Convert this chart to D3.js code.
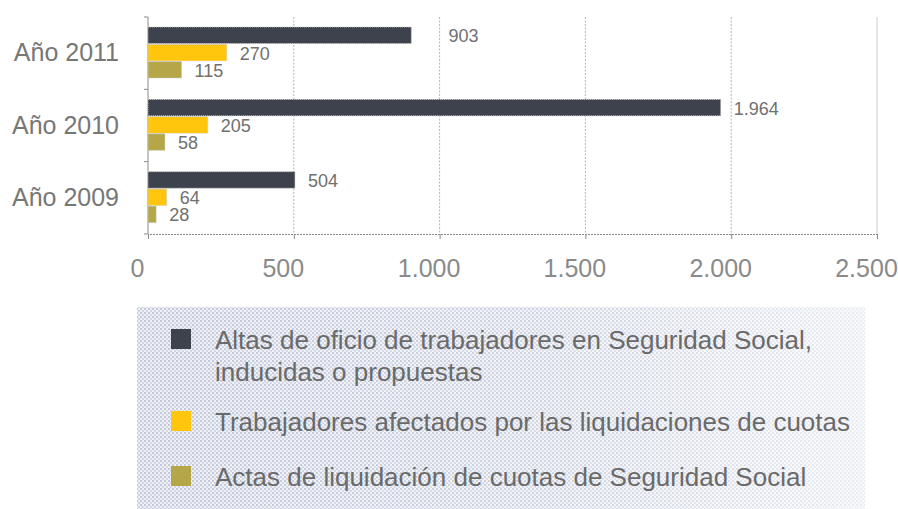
<!DOCTYPE html>
<html><head><meta charset="utf-8">
<script src="https://cdn.jsdelivr.net/npm/d3@7"></script>
<style>
html,body{margin:0;padding:0;background:#fff;}
svg{display:block;font-family:"Liberation Sans",Arial,sans-serif;}
</style></head>
<body><svg id="chart" width="898" height="509"></svg>
<script>
// ---- data ----
const categories = ["Año 2011", "Año 2010", "Año 2009"];
const seriesKeys = ["altas", "trabajadores", "actas"];
const altasValues = [903, 1964, 504];
const trabajadoresValues = [270, 205, 64];
const actasValues = [115, 58, 28];
const xTickValues = [0, 500, 1000, 1500, 2000, 2500];
const legendLabels = [
  ["Altas de oficio de trabajadores en Seguridad Social,", "inducidas o propuestas"],
  ["Trabajadores afectados por las liquidaciones de cuotas"],
  ["Actas de liquidación de cuotas de Seguridad Social"]
];
const seriesColors = ["#3d424d", "#ffc60d", "#b5a748"];

(function () {
const rows = categories.map((c, i) => ({
  cat: c,
  altas: altasValues[i],
  trabajadores: trabajadoresValues[i],
  actas: actasValues[i]
}));

const loc = d3.formatLocale({decimal: ",", thousands: ".", grouping: [3], currency: ["", "€"]});
const fmt = v => v >= 1000 ? loc.format(",")(v) : String(v);

const svg = d3.select("#chart");
const mLeft = 148, mRight = 877, mTop = 17, mBottom = 234;

const x = d3.scaleLinear().domain([0, 2500]).range([mLeft, mRight]);
const y0 = d3.scaleBand().domain(categories).range([mTop, mBottom]).padding(0);
const y1 = d3.scaleBand().domain(seriesKeys).range([10, 61]).paddingInner(0.04);
const color = d3.scaleOrdinal().domain(seriesKeys).range(seriesColors);

// defs
const defs = svg.append("defs");
const pat = defs.append("pattern").attr("id", "dots").attr("width", 4).attr("height", 4)
  .attr("patternUnits", "userSpaceOnUse");
pat.append("rect").attr("width", 4).attr("height", 4).attr("fill", "#eff1f6");
pat.append("rect").attr("x", 0).attr("y", 0).attr("width", 2).attr("height", 2).attr("fill", "#c2c8da");
pat.append("rect").attr("x", 2).attr("y", 2).attr("width", 2).attr("height", 2).attr("fill", "#d0d5e4");
const grad = defs.append("linearGradient").attr("id", "fade").attr("x1", 0).attr("x2", 1).attr("y1", 0).attr("y2", 0);
grad.append("stop").attr("offset", "0").attr("stop-color", "#fff").attr("stop-opacity", 0);
grad.append("stop").attr("offset", "0.55").attr("stop-color", "#fff").attr("stop-opacity", 0.2);
grad.append("stop").attr("offset", "1").attr("stop-color", "#fff").attr("stop-opacity", 0.65);

// gridlines
svg.append("g").selectAll("line").data(xTickValues.slice(1)).join("line")
  .attr("x1", d => x(d)).attr("x2", d => x(d))
  .attr("y1", mTop).attr("y2", mBottom)
  .attr("stroke", d => d === 2500 ? "#cfcfcf" : "#b5b5b5")
  .attr("stroke-width", 1)
  .attr("stroke-dasharray", d => d === 2500 ? null : "2,1.5");

// bottom axis
const xAxis = d3.axisBottom(x).tickValues(xTickValues).tickSize(5).tickFormat(fmt);
const gx = svg.append("g").attr("transform", `translate(0,${mBottom})`).call(xAxis);
gx.select(".domain").attr("stroke", "#8a8a8a").attr("stroke-dasharray", "2,1");
gx.selectAll(".tick line").attr("stroke", "#8a8a8a");
gx.selectAll(".tick text").attr("fill", "#8a8a8a").attr("font-size", 25)
  .attr("font-family", "Liberation Sans, Arial, sans-serif")
  .attr("dy", 0).attr("y", 43).attr("x", -11);

// left axis
svg.append("line").attr("x1", mLeft).attr("x2", mLeft).attr("y1", mTop).attr("y2", mBottom)
  .attr("stroke", "#8a8a8a");
const bounds = categories.map(c => y0(c)).concat([mBottom]);
svg.append("g").selectAll("line").data(bounds).join("line")
  .attr("x1", mLeft - 4).attr("x2", mLeft).attr("y1", d => d).attr("y2", d => d)
  .attr("stroke", "#8a8a8a");

svg.append("g").selectAll("text").data(categories).join("text")
  .attr("x", 119).attr("y", d => y0(d) + y0.bandwidth() / 2 + 8)
  .attr("text-anchor", "end").attr("font-size", 25).attr("fill", "#777")
  .text(d => d);

// bars
const groups = svg.append("g").selectAll("g").data(rows).join("g")
  .attr("transform", d => `translate(0,${y0(d.cat)})`);
groups.selectAll("rect").data(d => seriesKeys.map(k => ({key: k, value: d[k]}))).join("rect")
  .attr("x", x(0)).attr("y", d => y1(d.key))
  .attr("width", d => x(d.value) - x(0)).attr("height", y1.bandwidth())
  .attr("fill", d => color(d.key))
  .attr("stroke", "#c9c9c9").attr("stroke-width", 1).attr("stroke-dasharray", "1,1");

// value labels (shift past gridline if overlapping)
const gridXs = xTickValues.slice(1).map(v => x(v));
groups.selectAll("text").data(d => seriesKeys.map(k => ({key: k, value: d[k]}))).join("text")
  .attr("font-size", 18).attr("fill", "#707070")
  .attr("y", d => y1(d.key) + y1.bandwidth() / 2 + 7)
  .text(d => fmt(d.value))
  .attr("x", function(d) {
    let start = x(d.value) + 13;
    const w = this.getComputedTextLength();
    for (const g of gridXs) {
      if (g > start - 2 && g < start + w + 2) start = g + 9;
    }
    return start;
  });

// legend
const lg = svg.append("g");
lg.append("rect").attr("x", 137).attr("y", 307).attr("width", 728).attr("height", 202).attr("fill", "url(#dots)");
lg.append("rect").attr("x", 137).attr("y", 307).attr("width", 728).attr("height", 202).attr("fill", "url(#fade)");
const legendCenters = {altas: 339, trabajadores: 421, actas: 476};
const items = lg.selectAll("g.item").data(seriesKeys).join("g").attr("class", "item");
items.append("rect")
  .attr("x", 171).attr("y", d => legendCenters[d] - 10)
  .attr("width", 20).attr("height", 20).attr("fill", d => color(d));
items.each(function(k, i) {
  const t = d3.select(this).append("text").attr("font-size", 26).attr("fill", "#6a6a6a");
  legendLabels[i].forEach((line, j) => {
    t.append("tspan").attr("x", 215).attr("y", legendCenters[k] + 10 + j * 32).text(line);
  });
});
})();
</script></body></html>
